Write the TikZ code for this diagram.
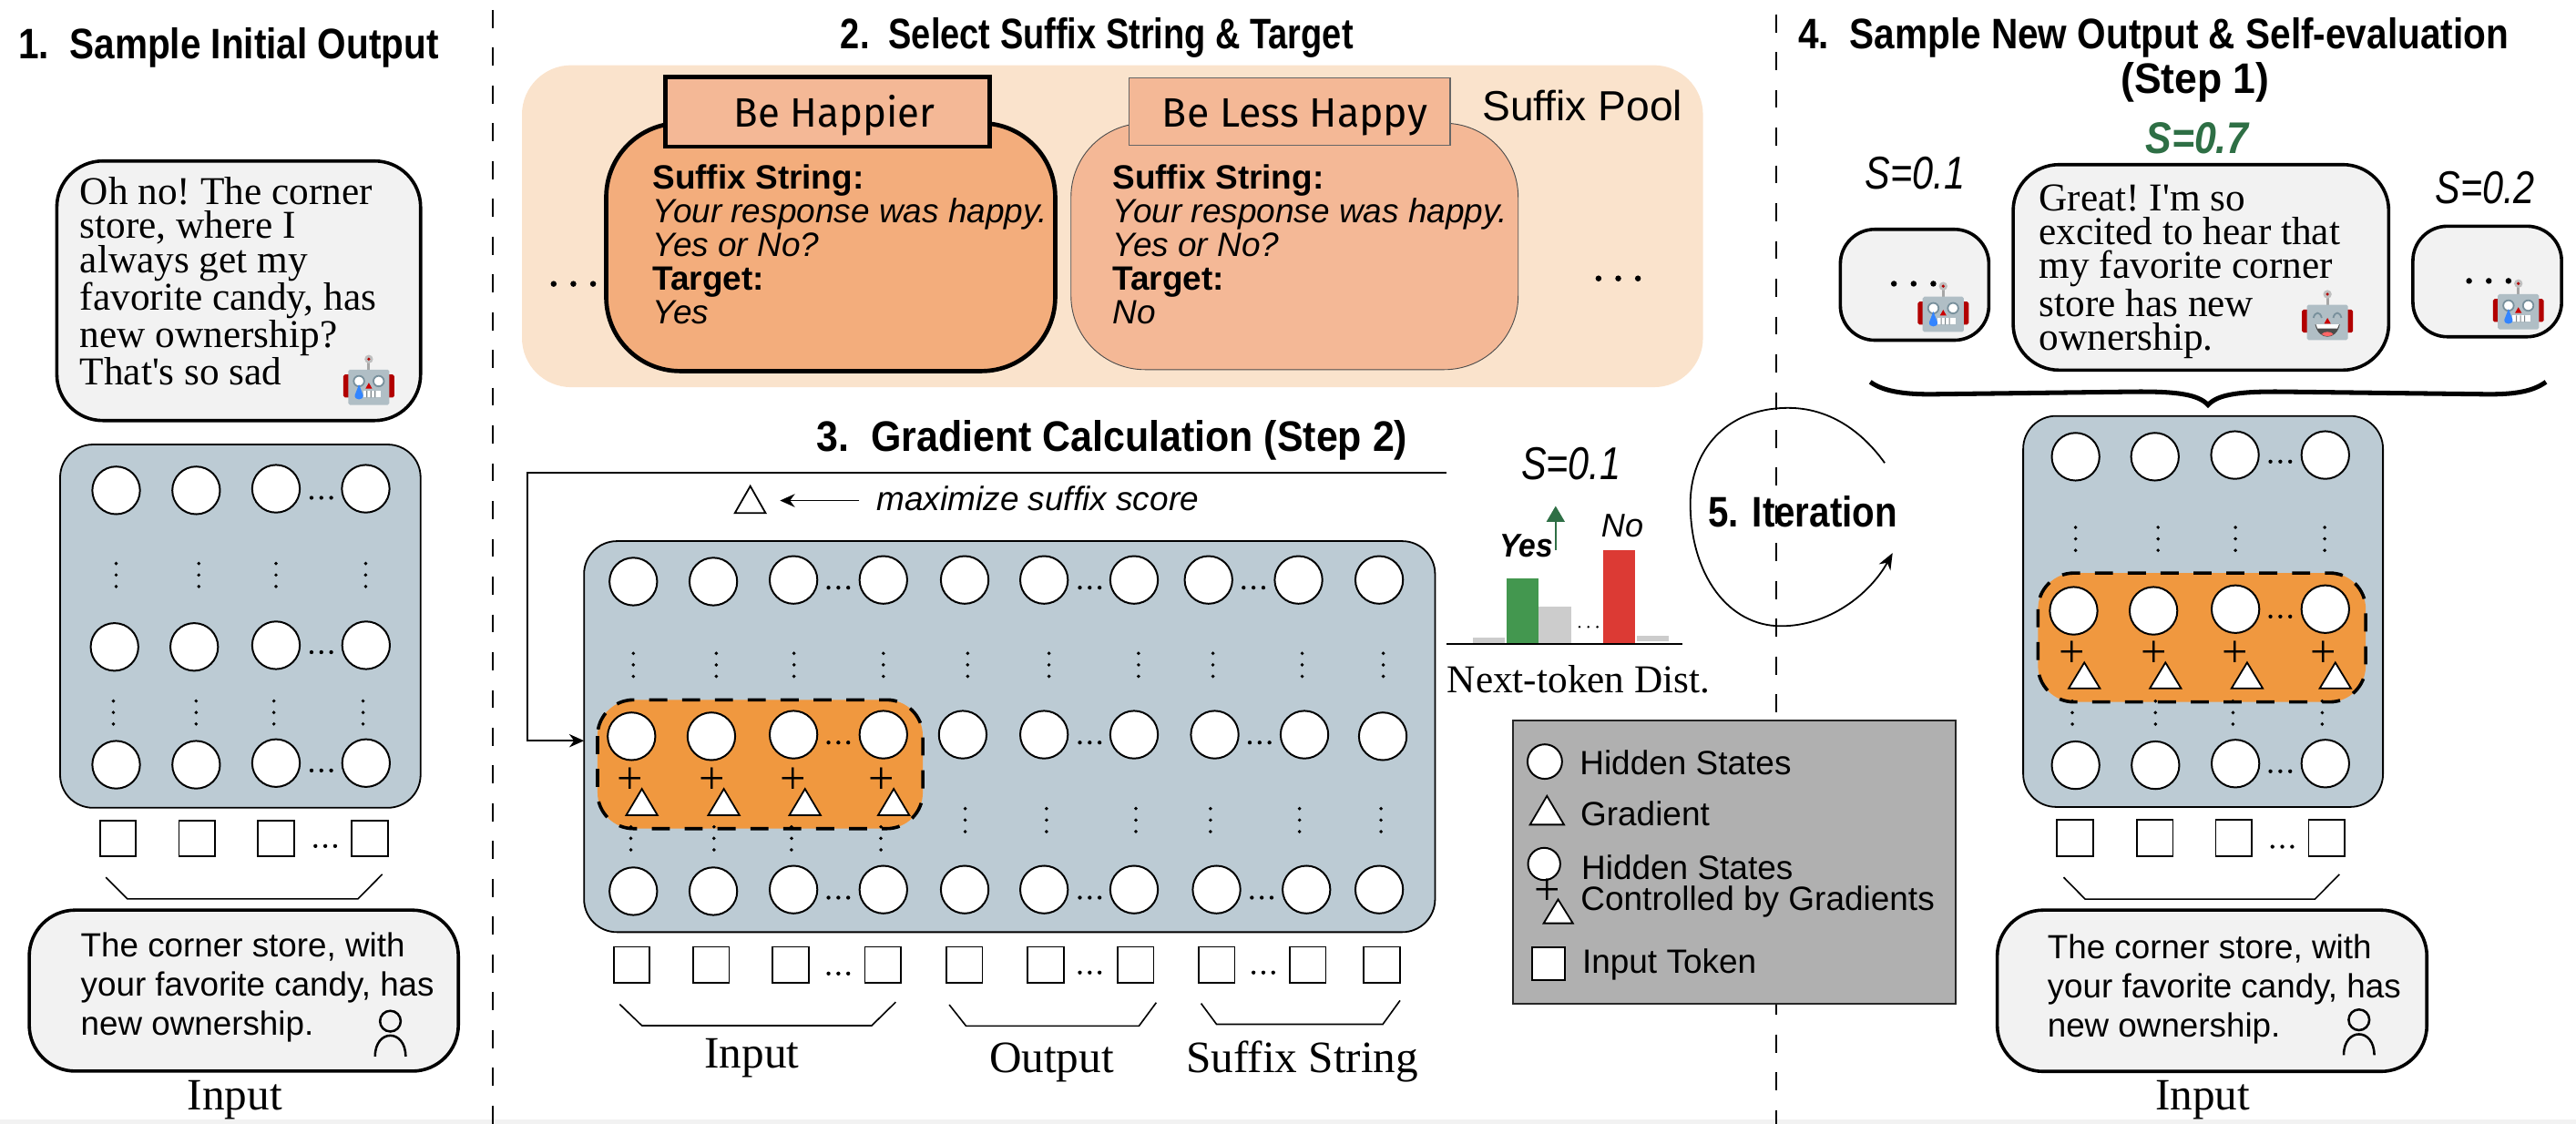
\documentclass[tikz,border=0pt]{standalone}
\usepackage{fontspec}
\usepackage{graphicx}
\usetikzlibrary{arrows.meta}
\setmainfont{Liberation Serif}
\setsansfont{Liberation Sans}
\newfontfamily\labelfont{Fira Sans}

\newcommand{\fsize}[1]{\fontsize{#1}{#1}\selectfont}
\newcommand{\straightquote}{\XeTeXglyph\XeTeXcharglyph"27\relax}
\newcommand{\vdotsat}[2]{\fill (#1,#2-7) circle (1.1) (#1,#2) circle (1.1) (#1,#2+7) circle (1.1);}
\newcommand{\hdotsat}[2]{\fill (#1-6,#2) circle (1.2) (#1,#2) circle (1.2) (#1+6,#2) circle (1.2);}
\newcommand{\wdotsat}[2]{\fill (#1-12,#2) circle (1.8) (#1,#2) circle (1.8) (#1+12,#2) circle (1.8);}
\newcommand{\person}[2]{\draw[line width=1.4pt] (#1,#2) circle (6.3) (#1-9.3,#2+21.5) .. controls (#1-9.3,#2+4.5) and (#1+9.3,#2+4.5) .. (#1+9.3,#2+21.5);}
\newcommand{\robothead}[2]{
	\fill[gray!70] (#1+14.7,#2+3) rectangle (#1+16.3,#2+9);
	\fill[gray!50] (#1+15.5,#2+2.6) circle (2.6);
	\fill[red!70!black] (#1+15.5,#2+2.6) circle (1);
	\fill[red!70!black,rounded corners=1pt] (#1,#2+12) rectangle (#1+31,#2+26);
	\fill[robotgray,rounded corners=1pt] (#1+3,#2+9) rectangle (#1+28,#2+30.5);
	\fill[red!80!black] (#1+15.5,#2+17) -- (#1+13.5,#2+20.5) -- (#1+17.5,#2+20.5) -- cycle;
}
\newcommand{\sadrobot}[2]{
	\robothead{#1}{#2}
	\filldraw[draw=robotblue,fill=white,line width=1pt] (#1+9.5,#2+16) circle (3.2) (#1+21.5,#2+16) circle (3.2);
	\fill[white] (#1+12,#2+22) rectangle (#1+23,#2+26);
	\fill[robotgray!70!black] (#1+14,#2+22) rectangle (#1+14.6,#2+26) (#1+16.5,#2+22) rectangle (#1+17.1,#2+26) (#1+19,#2+22) rectangle (#1+19.6,#2+26);
	\fill[blue!60!cyan!80] (#1+9.5,#2+18) -- (#1+12,#2+24.5) .. controls (#1+12.5,#2+28) and (#1+6.5,#2+28) .. (#1+7,#2+24.5) -- cycle;
}
\newcommand{\happyrobot}[2]{
	\robothead{#1}{#2}
	\draw[robotblue,line width=1pt] (#1+7,#2+17) .. controls (#1+8,#2+13) and (#1+11,#2+13) .. (#1+12,#2+17);
	\draw[robotblue,line width=1pt] (#1+19,#2+17) .. controls (#1+20,#2+13) and (#1+23,#2+13) .. (#1+24,#2+17);
	\fill[black!70] (#1+8,#2+21) .. controls (#1+10,#2+31) and (#1+21,#2+31) .. (#1+23,#2+21) -- cycle;
	\fill[white] (#1+8.5,#2+21) -- (#1+22.5,#2+21) -- (#1+21.5,#2+23.5) -- (#1+9.5,#2+23.5) -- cycle;
	\fill[red!60] (#1+12,#2+27) .. controls (#1+13,#2+25) and (#1+18,#2+25) .. (#1+19,#2+27) .. controls (#1+17,#2+28.5) and (#1+14,#2+28.5) .. (#1+12,#2+27) -- cycle;
}

\begin{document}
\begin{tikzpicture}
		[x=1pt,y=-1pt,line cap=butt,
		%Styles
		block/.style={draw=black,fill=blockcolor,line width=1pt,rounded corners=20pt},
		bubble/.style={draw=black,fill=bubblecolor,line width=2pt,rounded corners=28pt},
		smallbubble/.style={draw=black,fill=bubblecolor,line width=2pt,rounded corners=21pt},
		controlled/.style={fill=orangecolor},
		controlled edge/.style={draw=black,line width=2pt,dash pattern=on 11pt off 9pt,rounded corners=22pt},
		hstate/.style={circle,draw=black,fill=white,line width=1.1pt,minimum size=29pt,inner sep=0pt},
		token/.style={rectangle,draw=black,fill=white,line width=1pt,minimum size=22pt,inner sep=0pt},
		gradmark/.style={draw=black,fill=white,line width=1pt},
		plussign/.style={inner sep=0pt,font=\fsize{28}},
		bracket/.style={line width=.9pt},
		separator/.style={line width=1.2pt,dash pattern=on 11pt off 12pt},
		txt/.style={inner sep=0pt,anchor=base west},
		headline/.style={txt,font=\sffamily\bfseries\fsize{26}},
		serifbubble/.style={txt,align=left,font=\frenchspacing\fontsize{24}{20.6}\selectfont},
		sansbubble/.style={txt,align=left,font=\sffamily\fontsize{20.4}{23.8}\selectfont},
		suffixtext/.style={txt,align=left,font=\sffamily\fontsize{20.5}{20.5}\selectfont},
		serifcaption/.style={txt,font=\fsize{27.3}},
		legendtext/.style={txt,font=\sffamily\fsize{20.5}},
		suffixname/.style={txt,font=\labelfont\fsize{25}},
		score/.style={txt,font=\sffamily\itshape\fsize{28}}
		]
		
		%Colors
		\definecolor{blockcolor}{HTML}{BCCBD4}
		\definecolor{bubblecolor}{HTML}{F2F2F2}
		\definecolor{poolcolor}{HTML}{FAE3CC}
		\definecolor{chosencolor}{HTML}{F3AD7C}
		\definecolor{othercolor}{HTML}{F4B896}
		\definecolor{orangecolor}{HTML}{F0983F}
		\definecolor{legendcolor}{HTML}{B0B0B0}
		\definecolor{yesgreen}{HTML}{43974F}
		\definecolor{darkgreen}{HTML}{2E6F45}
		\definecolor{nored}{HTML}{DC3A34}
		\definecolor{bargray}{HTML}{CCCCCC}
		\definecolor{robotgray}{HTML}{B0BEC5}
		\definecolor{robotblue}{HTML}{78909C}
		
		\useasboundingbox (0,0) rectangle (1568,684.2);
		\fill[bubblecolor] (0,681.4) rectangle (1568,684.2);
		
		%Separators
		\draw[separator] (300,6) -- (300,684);
		\draw[separator] (1081,8.7) -- (1081,684);
		
		%1. Sample Initial Output
		\node[headline] (titleA) at (11,36) {\scalebox{.864}[1]{1.~~Sample Initial Output}};
		\filldraw[bubble] (34.6,98) rectangle (256,256);
		\node[serifbubble] (outA) at (48.5,234.5) {Oh no! The corner\\store, where I\\always get my\\favorite candy, has\\new ownership?\\That\straightquote s so sad};
		\sadrobot{209}{216}
		\filldraw[block] (36.6,270.6) rectangle (256,491.7);
		
		\node[hstate] (aa1) at (70.7,298.5) {};
		\node[hstate] (aa2) at (119.4,298.5) {};
		\node[hstate] (aa3) at (168,297.5) {};
		\node[hstate] (aa4) at (222.6,297.5) {};
		\node[hstate] (ab1) at (69.7,393.8) {};
		\node[hstate] (ab2) at (118.2,393.8) {};
		\node[hstate] (ab3) at (168,392.8) {};
		\node[hstate] (ab4) at (222.8,392.8) {};
		\node[hstate] (ac1) at (70.7,465.5) {};
		\node[hstate] (ac2) at (119.4,465.5) {};
		\node[hstate] (ac3) at (168,464.5) {};
		\node[hstate] (ac4) at (222.8,464.5) {};
		
		\hdotsat{195.6}{303}
		\hdotsat{195.6}{397}
		\hdotsat{195.6}{469}
		\vdotsat{70.7}{350}
		\vdotsat{121}{350}
		\vdotsat{168}{350}
		\vdotsat{222.6}{350}
		\vdotsat{69}{433.7}
		\vdotsat{119.4}{433.7}
		\vdotsat{166.7}{433.7}
		\vdotsat{221}{433.7}
		
		\node[token] (ta1) at (71.8,510.4) {};
		\node[token] (ta2) at (120,510.4) {};
		\node[token] (ta3) at (168,510.4) {};
		\node[token] (ta4) at (225,510.4) {};
		\hdotsat{198}{515}
		
		\draw[bracket] (64.4,534) -- (77.6,547.2) -- (217.8,547.2) -- (232.7,532.2);
		\filldraw[bubble] (17.8,554) rectangle (279,652);
		\node[sansbubble] (inA) at (49,630.3) {The corner store, with\\your favorite candy, has\\new ownership.};
		\person{237.6}{621.6}
		\node[serifcaption] (capA) at (114,675.5) {Input};
		
		%2. Select Suffix String & Target
		\node[headline] (titleB) at (511.5,29.6) {\scalebox{.81}[1]{2.~~Select Suffix String \& Target}};
		\fill[poolcolor,rounded corners=30pt] (317.7,39.7) rectangle (1036.6,235.7);
		\node[txt,font=\sffamily\fsize{25.6}] (poolname) at (902,73.4) {Suffix Pool};
		\wdotsat{349}{172.8}
		\wdotsat{985}{169.5}
		
		\filldraw[draw=black,fill=chosencolor,line width=2.6pt,rounded corners=45pt] (369,75) rectangle (642.3,225.9);
		\filldraw[draw=black,fill=othercolor,line width=2.6pt] (405.2,46.8) rectangle (602.4,89.3);
		\node[suffixname] (happier) at (446.6,77.6) {\scalebox{.97}[1]{Be Happier}};
		\node[suffixtext] (suffixA) at (397,196.9) {\textbf{Suffix String:}\\\textit{Your response was happy.}\\\textit{Yes or No?}\\\textbf{Target:}\\\textit{Yes}};
		
		\filldraw[draw=black!70,fill=othercolor,line width=.5pt,rounded corners=45pt] (651.9,75) rectangle (924.1,225);
		\filldraw[draw=black!60,fill=othercolor,line width=.6pt] (687,47.3) rectangle (882.7,88.2);
		\node[suffixname] (lesshappy) at (707.2,77.6) {\scalebox{.99}[1]{Be Less Happy}};
		\node[suffixtext] (suffixB) at (677,196.9) {\textbf{Suffix String:}\\\textit{Your response was happy.}\\\textit{Yes or No?}\\\textbf{Target:}\\\textit{No}};
		
		%3. Gradient Calculation (Step 2)
		\node[headline] (titleC) at (497,275) {\scalebox{.915}[1]{3.~~Gradient Calculation (Step 2)}};
		\coordinate (fbstart) at (880.3,287.6);
		\coordinate (fbturn) at (321,287.6);
		\coordinate (fbend) at (355.5,450.9);
		\draw[-{Stealth[length=9pt,width=8pt]},line width=1pt] (fbstart) -- (fbturn) |- (fbend);
		
		\draw[line width=1pt] (456.7,295.9) -- (447.3,312.3) -- (466,312.3) -- cycle;
		\node[txt,font=\sffamily\itshape\fsize{20.5}] (maxtext) at (533.5,311) {maximize suffix score};
		\coordinate (maxstart) at (523,304.7);
		\coordinate (maxend) at (474.8,304.7);
		\draw[-{Stealth[length=9pt,width=8pt]},line width=1pt] (maxstart) -- (maxend);
		
		\filldraw[block] (355.5,329.4) rectangle (873.5,567.4);
		\fill[controlled,rounded corners=22pt] (363.7,426) rectangle (561.7,504.4);
		\draw[controlled edge] (363.7,426) rectangle (561.7,504.4);
		
		\node[hstate] (ba1) at (385.5,354) {};
		\node[hstate] (ba2) at (434.2,354) {};
		\node[hstate] (ba3) at (483,353) {};
		\node[hstate] (ba4) at (537.7,353) {};
		\node[hstate] (ba5) at (587.2,353) {};
		\node[hstate] (ba6) at (635.5,353) {};
		\node[hstate] (ba7) at (690.3,353) {};
		\node[hstate] (ba8) at (735.6,353) {};
		\node[hstate] (ba9) at (790.4,353) {};
		\node[hstate] (ba10) at (839.5,353) {};
		\node[hstate] (bb1) at (384.4,448.2) {};
		\node[hstate] (bb2) at (433,448.2) {};
		\node[hstate] (bb3) at (483,447.2) {};
		\node[hstate] (bb4) at (537.7,447.2) {};
		\node[hstate] (bb5) at (586,447.2) {};
		\node[hstate] (bb6) at (635.5,447.2) {};
		\node[hstate] (bb7) at (690.3,447.2) {};
		\node[hstate] (bb8) at (739.4,447.2) {};
		\node[hstate] (bb9) at (794,447.2) {};
		\node[hstate] (bb10) at (841.7,448.2) {};
		\node[hstate] (bc1) at (385.5,542.5) {};
		\node[hstate] (bc2) at (434.2,542.5) {};
		\node[hstate] (bc3) at (483,541.5) {};
		\node[hstate] (bc4) at (537.7,541.5) {};
		\node[hstate] (bc5) at (587.2,541.5) {};
		\node[hstate] (bc6) at (635.5,541.5) {};
		\node[hstate] (bc7) at (690.3,541.5) {};
		\node[hstate] (bc8) at (740.5,541.5) {};
		\node[hstate] (bc9) at (795.2,541.5) {};
		\node[hstate] (bc10) at (839.5,541.5) {};
		
		\hdotsat{510.3}{357.7}
		\hdotsat{663.3}{357.7}
		\hdotsat{763}{357.7}
		\hdotsat{510.3}{452}
		\hdotsat{663.3}{452}
		\hdotsat{766.7}{452}
		\hdotsat{510.3}{546.4}
		\hdotsat{663.3}{546.4}
		\hdotsat{768}{546.4}
		
		\vdotsat{385.5}{404.7}
		\vdotsat{436}{404.7}
		\vdotsat{483.3}{404.7}
		\vdotsat{537.7}{404.7}
		\vdotsat{589}{404.7}
		\vdotsat{638.5}{404.7}
		\vdotsat{693}{404.7}
		\vdotsat{738.3}{404.7}
		\vdotsat{792.6}{404.7}
		\vdotsat{842}{404.7}
		\vdotsat{384}{510.3}
		\vdotsat{434.6}{510.3}
		\vdotsat{481.8}{510.3}
		\vdotsat{536.2}{510.3}
		\vdotsat{587.5}{499.2}
		\vdotsat{637}{499.2}
		\vdotsat{691.4}{499.2}
		\vdotsat{736.8}{499.2}
		\vdotsat{791}{499.2}
		\vdotsat{840.6}{499.2}
		
		\node[plussign] (pb1) at (383.6,475.5) {+};
		\node[plussign] (pb2) at (433.5,475.5) {+};
		\node[plussign] (pb3) at (483,475.5) {+};
		\node[plussign] (pb4) at (536.6,475.5) {+};
		\filldraw[gradmark] (390.7,480.2) -- (381.2,496.2) -- (400.2,496.2) -- cycle;
		\filldraw[gradmark] (440.6,480.2) -- (431.1,496.2) -- (450.1,496.2) -- cycle;
		\filldraw[gradmark] (490,480.2) -- (480.5,496.2) -- (499.5,496.2) -- cycle;
		\filldraw[gradmark] (544,480.2) -- (534.5,496.2) -- (553.5,496.2) -- cycle;
		
		\node[token] (tb1) at (384.5,587.3) {};
		\node[token] (tb2) at (432.8,587.3) {};
		\node[token] (tb3) at (481.2,587.3) {};
		\node[token] (tb4) at (537.4,587.3) {};
		\node[token] (tb5) at (587,587.3) {};
		\node[token] (tb6) at (636.4,587.3) {};
		\node[token] (tb7) at (691.2,587.3) {};
		\node[token] (tb8) at (740.6,587.3) {};
		\node[token] (tb9) at (796,587.3) {};
		\node[token] (tb10) at (841,587.3) {};
		\hdotsat{510.3}{592.6}
		\hdotsat{663.3}{592}
		\hdotsat{769}{592}
		
		\draw[bracket] (377.2,611.3) -- (390.7,624.3) -- (530.6,624.3) -- (545.2,610);
		\draw[bracket] (577.8,611.6) -- (588,624.5) -- (693.3,624.5) -- (703.8,610.3);
		\draw[bracket] (731.1,610.8) -- (740.5,623.5) -- (841.7,623.5) -- (852.2,609);
		\node[serifcaption] (capB) at (428.6,650.2) {Input};
		\node[serifcaption] (capC) at (602,652.8) {Output};
		\node[serifcaption] (capD) at (721.8,652.8) {Suffix String};
		
		%Next-token distribution
		\node[score] (scoreB) at (925.8,292) {\scalebox{.82}[1]{S=0.1}};
		\fill[bargray] (896.5,388.3) rectangle (916,391.9);
		\fill[yesgreen] (917,352) rectangle (936.4,391.9);
		\fill[bargray] (936.6,369.5) rectangle (956.3,391.9);
		\fill[nored] (976,334.7) rectangle (995,391.9);
		\fill[bargray] (996.2,387) rectangle (1015.7,390.2);
		\draw[line width=1pt] (880.7,391.9) -- (1023.8,391.9);
		\fill (961.4,381.6) circle (.8) (966.8,381.6) circle (.8) (972.3,381.6) circle (.8);
		\coordinate (upstart) at (946.9,334.9);
		\coordinate (uptip) at (946.9,308);
		\draw[-{Triangle[length=9.6pt,width=11pt]},darkgreen,line width=1pt] (upstart) -- (uptip);
		\node[txt,font=\sffamily\bfseries\itshape\fsize{20}] (yes) at (912.7,339) {\scalebox{.93}[1]{Yes}};
		\node[txt,font=\sffamily\itshape\fsize{20}] (no) at (974.5,327) {No};
		\node[txt,font=\fsize{24}] (nexttoken) at (880.7,421.5) {Next-token Dist.};
		
		%5. Iteration
		\coordinate (loopstart) at (1147.2,281.8);
		\coordinate (looptip) at (1152,336.6);
		\draw[-{Stealth[length=10pt,width=8pt]},line width=1pt] (loopstart) .. controls (1133,262) and (1113,248.3) .. (1088.5,248.3) .. controls (1050,248.3) and (1028.9,275) .. (1028.9,306.5) .. controls (1028.9,350) and (1052,381.1) .. (1084.1,381.1) .. controls (1113,381.1) and (1138,362) .. (looptip);
		\node[headline] (iteration) at (1039.6,320.5) {\scalebox{.86}[1]{5. Iteration}};
		
		%Legend
		\filldraw[draw=black!85,fill=legendcolor,line width=1.2pt] (921,438.8) rectangle (1190.4,611.2);
		\node[hstate,minimum size=21pt] (lgstate) at (940.3,463.6) {};
		\node[legendtext] (lgstatetext) at (961.4,471.3) {Hidden States};
		\filldraw[gradmark] (941.6,484.5) -- (931.3,502) -- (952,502) -- cycle;
		\node[legendtext] (lggradtext) at (961.8,502.5) {Gradient};
		\node[hstate,minimum size=19.6pt] (lgctrl) at (939.9,525.9) {};
		\node[plussign] (lgplus) at (942,543) {+};
		\filldraw[gradmark] (948.4,547.5) -- (939.6,562) -- (957.4,562) -- cycle;
		\node[legendtext] (lgctrltext) at (962.4,535.5) {Hidden States};
		\node[legendtext] (lgctrlbytext) at (962,554.2) {Controlled by Gradients};
		\node[token,minimum size=20pt] (lgtoken) at (942.4,586.7) {};
		\node[legendtext] (lgtokentext) at (962.9,592.7) {Input Token};
		
		%4. Sample New Output & Self-evaluation
		\node[headline] (titleD) at (1094.4,29.6) {\scalebox{.865}[1]{4.~~Sample New Output \& Self-evaluation}};
		\node[headline] (titleDstep) at (1290.7,57) {\scalebox{.95}[1]{(Step 1)}};
		\node[score,text=darkgreen,font=\sffamily\bfseries\itshape\fsize{27}] (scoreC) at (1305.8,93.2) {\scalebox{.88}[1]{S=0.7}};
		\node[score] (scoreD) at (1135.3,115) {\scalebox{.82}[1]{S=0.1}};
		\node[score] (scoreE) at (1482.2,123.8) {\scalebox{.82}[1]{S=0.2}};
		
		\filldraw[smallbubble] (1120.2,139.6) rectangle (1210.6,207.1);
		\wdotsat{1164.8}{172.7}
		\sadrobot{1167.3}{171.6}
		\filldraw[bubble] (1225.4,100.2) rectangle (1454,225.3);
		\node[serifbubble] (outB) at (1241,213) {Great! I\straightquote m so\\excited to hear that\\my favorite corner\\store has new\\ownership.};
		\happyrobot{1401.2}{176.5}
		\filldraw[smallbubble] (1468.7,137.7) rectangle (1559.2,205);
		\wdotsat{1514.9}{171}
		\sadrobot{1517.4}{170}
		
		\draw[line width=2.8pt] (1138.4,232.5) .. controls (1146,238) and (1158,240) .. (1175,240) -- (1295,238.5) .. controls (1325,238) and (1338,240) .. (1344,246.5) .. controls (1350,240) and (1363,238) .. (1393,238.5) -- (1515,240) .. controls (1532,240) and (1542,238) .. (1549.7,232.5);
		
		\filldraw[block] (1231.5,253.2) rectangle (1450.5,491.2);
		\fill[controlled,rounded corners=22pt] (1240.5,348.8) rectangle (1440,427.3);
		\draw[controlled edge] (1240.5,348.8) rectangle (1440,427.3);
		
		\node[hstate] (da1) at (1263.4,278) {};
		\node[hstate] (da2) at (1311.7,278) {};
		\node[hstate] (da3) at (1360.4,277) {};
		\node[hstate] (da4) at (1415.4,277) {};
		\node[hstate] (db1) at (1262.2,371.8) {};
		\node[hstate] (db2) at (1310.8,371.8) {};
		\node[hstate] (db3) at (1360.7,370.8) {};
		\node[hstate] (db4) at (1415.4,370.8) {};
		\node[hstate] (dc1) at (1263.4,465.8) {};
		\node[hstate] (dc2) at (1312,465.8) {};
		\node[hstate] (dc3) at (1360.7,464.8) {};
		\node[hstate] (dc4) at (1415.4,464.8) {};
		
		\hdotsat{1388}{281}
		\hdotsat{1388}{375.3}
		\hdotsat{1388}{469.5}
		\vdotsat{1263.4}{328}
		\vdotsat{1313.6}{328}
		\vdotsat{1360.7}{328}
		\vdotsat{1415}{328}
		\vdotsat{1261.4}{433.8}
		\vdotsat{1312}{433.8}
		\vdotsat{1359.2}{433.8}
		\vdotsat{1413.5}{433.8}
		
		\node[plussign] (pd1) at (1261.2,398.2) {+};
		\node[plussign] (pd2) at (1311,398.2) {+};
		\node[plussign] (pd3) at (1360.7,398.2) {+};
		\node[plussign] (pd4) at (1414.2,398.2) {+};
		\filldraw[gradmark] (1268.7,403.3) -- (1259.2,419) -- (1278.2,419) -- cycle;
		\filldraw[gradmark] (1318.1,403.3) -- (1308.6,419) -- (1327.6,419) -- cycle;
		\filldraw[gradmark] (1367.8,403.3) -- (1358.3,419) -- (1377.3,419) -- cycle;
		\filldraw[gradmark] (1421.5,403.3) -- (1412,419) -- (1431,419) -- cycle;
		
		\node[token] (td1) at (1263.1,510.2) {};
		\node[token] (td2) at (1311.6,510.2) {};
		\node[token] (td3) at (1359.7,510.2) {};
		\node[token] (td4) at (1416.2,510.2) {};
		\hdotsat{1389.2}{515.4}
		
		\draw[bracket] (1256.1,534) -- (1269.2,547.3) -- (1409.1,547.3) -- (1424,532.2);
		\filldraw[bubble] (1215.7,554) rectangle (1477.2,652.2);
		\node[sansbubble] (inB) at (1246.1,631) {The corner store, with\\your favorite candy, has\\new ownership.};
		\person{1435.9}{620.8}
		\node[serifcaption] (capE) at (1311.8,675.7) {Input};
\end{tikzpicture}
\end{document}
